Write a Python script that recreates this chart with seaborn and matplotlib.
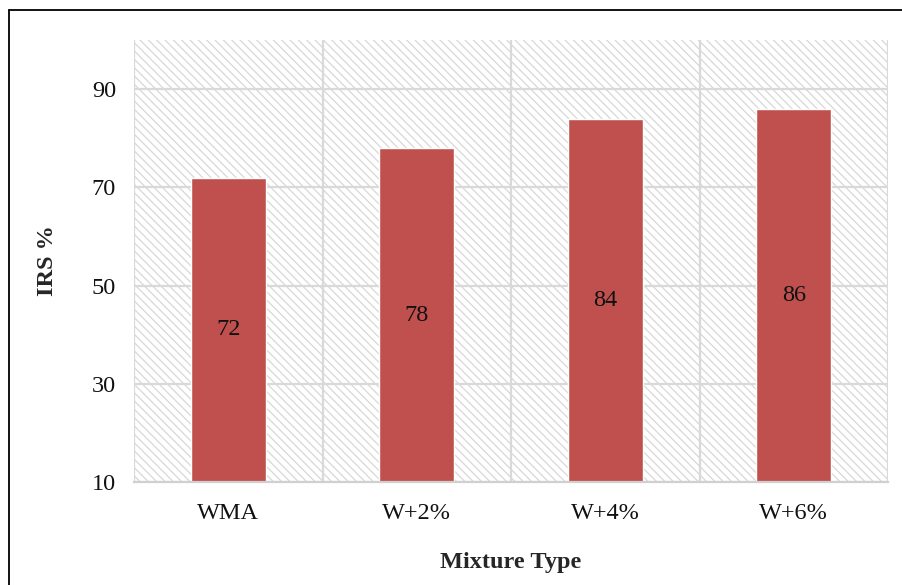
import matplotlib
matplotlib.use("Agg")
import matplotlib.pyplot as plt
import seaborn as sns
import pandas as pd
from matplotlib.patches import Rectangle
from matplotlib.lines import Line2D

categories = ["WMA", "W+2%", "W+4%", "W+6%"]
irs_values = [72, 78, 84, 86]
y_ticks = [10, 30, 50, 70, 90]

sns.set_theme(style="white")
plt.rcParams["font.family"] = ["Liberation Serif", "DejaVu Serif"]
plt.rcParams["hatch.color"] = "#d8d8d8"
plt.rcParams["hatch.linewidth"] = 0.9

df = pd.DataFrame({"Mixture Type": categories, "IRS %": irs_values})

fig = plt.figure(figsize=(9.03, 5.85), dpi=100)
ax = fig.add_axes([0.1484, 0.176, 0.835, 0.7556])
ax.set_facecolor("white")

# diagonal-striped plot area background
ax.add_patch(Rectangle((0, 0), 1, 1, transform=ax.transAxes, facecolor="white",
                       edgecolor="#d8d8d8", hatch="\\" * 4, linewidth=0, zorder=0))

sns.barplot(data=df, x="Mixture Type", y="IRS %", color="#C0504D", saturation=1,
            width=0.4, ax=ax, zorder=3)

ymin, ymax = 10, 100
ax.set_ylim(ymin, ymax)
ax.set_xlim(-0.5, len(categories) - 0.5)
ax.set_yticks(y_ticks)

# gridlines: horizontal at ticks, vertical at category boundaries
for t in y_ticks:
    ax.axhline(t, color="#d9d9d9", lw=1.6, zorder=1)
for b in range(len(categories) + 1):
    ax.axvline(b - 0.5, color="#d9d9d9", lw=1.6, zorder=1)

for s in ["top", "right", "left"]:
    ax.spines[s].set_visible(False)
ax.spines["bottom"].set_color("#d0d0d0")
ax.spines["bottom"].set_linewidth(1.6)
ax.spines["bottom"].set_zorder(4)

fs = 17.5
for i, v in enumerate(irs_values):
    ax.text(i, (ymin + v) / 2, str(v), ha="center", va="center",
            fontsize=fs, color="#111111", zorder=5)

ax.tick_params(axis="both", length=0, labelsize=fs, colors="#111111")
ax.tick_params(axis="x", pad=15)
ax.tick_params(axis="y", pad=13)
ax.set_xlabel("Mixture Type", fontsize=fs, fontweight="bold", labelpad=20)
ax.set_ylabel("IRS %", fontsize=fs, fontweight="bold", labelpad=24)

# outer frame lines
fig.add_artist(Line2D([9.5 / 903, 1], [1 - 10 / 585, 1 - 10 / 585],
                      transform=fig.transFigure, color="black", lw=1.3))
fig.add_artist(Line2D([9.5 / 903, 9.5 / 903], [0, 1 - 10 / 585],
                      transform=fig.transFigure, color="black", lw=1.3))

fig.savefig("out.png", dpi=100)
